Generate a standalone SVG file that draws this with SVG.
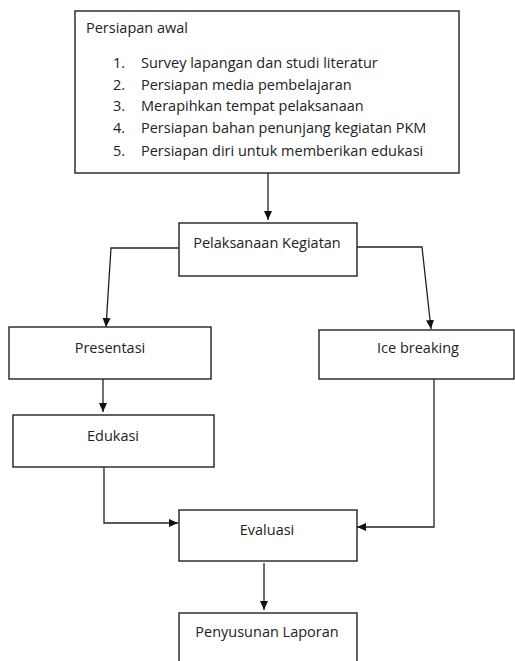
<svg xmlns="http://www.w3.org/2000/svg" width="515" height="661" viewBox="0 0 515 661">
<defs>
<style>
.box{fill:#fff;stroke:#222;stroke-width:1.4}
.t{font-family:"Open Sans","Liberation Sans",Arial,sans-serif;font-size:14.5px;fill:#222}
.c{text-anchor:middle}
.ln{fill:none;stroke:#222;stroke-width:1.3}
</style>
<marker id="ah" markerUnits="userSpaceOnUse" markerWidth="10" markerHeight="10" refX="9" refY="5" orient="auto">
<path d="M0,1 L9,5 L0,9 Z" fill="#111"/>
</marker>
</defs>
<rect width="515" height="661" fill="#fff"/>
<g id="connectors">
<path class="ln" d="M268,173 V220" marker-end="url(#ah)"/>
<path class="ln" d="M179,248 H111 L106,327" marker-end="url(#ah)"/>
<path class="ln" d="M357,247 H422 L431,329" marker-end="url(#ah)"/>
<path class="ln" d="M103,379 V412" marker-end="url(#ah)"/>
<path class="ln" d="M104,467 V523 H178" marker-end="url(#ah)"/>
<path class="ln" d="M434,379 V527 H357" marker-end="url(#ah)"/>
<path class="ln" d="M264,563 V610" marker-end="url(#ah)"/>
</g>
<g id="persiapan">
<rect class="box" x="75" y="11" width="384" height="162"/>
<text class="t" x="86" y="33">Persiapan awal</text>
<text class="t" x="113" y="68">1.</text><text class="t" x="141" y="68">Survey lapangan dan studi literatur</text>
<text class="t" x="113" y="90">2.</text><text class="t" x="141" y="90">Persiapan media pembelajaran</text>
<text class="t" x="113" y="111">3.</text><text class="t" x="141" y="111">Merapihkan tempat pelaksanaan</text>
<text class="t" x="113" y="133">4.</text><text class="t" x="141" y="133">Persiapan bahan penunjang kegiatan PKM</text>
<text class="t" x="113" y="156">5.</text><text class="t" x="141" y="156">Persiapan diri untuk memberikan edukasi</text>
</g>
<g id="pelaksanaan">
<rect class="box" x="179" y="223" width="178" height="53"/>
<text class="t c" x="267" y="248">Pelaksanaan Kegiatan</text>
</g>
<g id="presentasi">
<rect class="box" x="9" y="327" width="202" height="52"/>
<text class="t c" x="110" y="353">Presentasi</text>
</g>
<g id="icebreaking">
<rect class="box" x="319" y="330" width="195" height="49"/>
<text class="t c" x="418" y="353">Ice breaking</text>
</g>
<g id="edukasi">
<rect class="box" x="13" y="415" width="201" height="52"/>
<text class="t c" x="113" y="441">Edukasi</text>
</g>
<g id="evaluasi">
<rect class="box" x="179" y="510" width="178" height="51"/>
<text class="t c" x="267" y="535">Evaluasi</text>
</g>
<g id="penyusunan">
<rect class="box" x="179" y="613" width="178" height="60"/>
<text class="t c" x="267" y="637">Penyusunan Laporan</text>
</g>
</svg>
